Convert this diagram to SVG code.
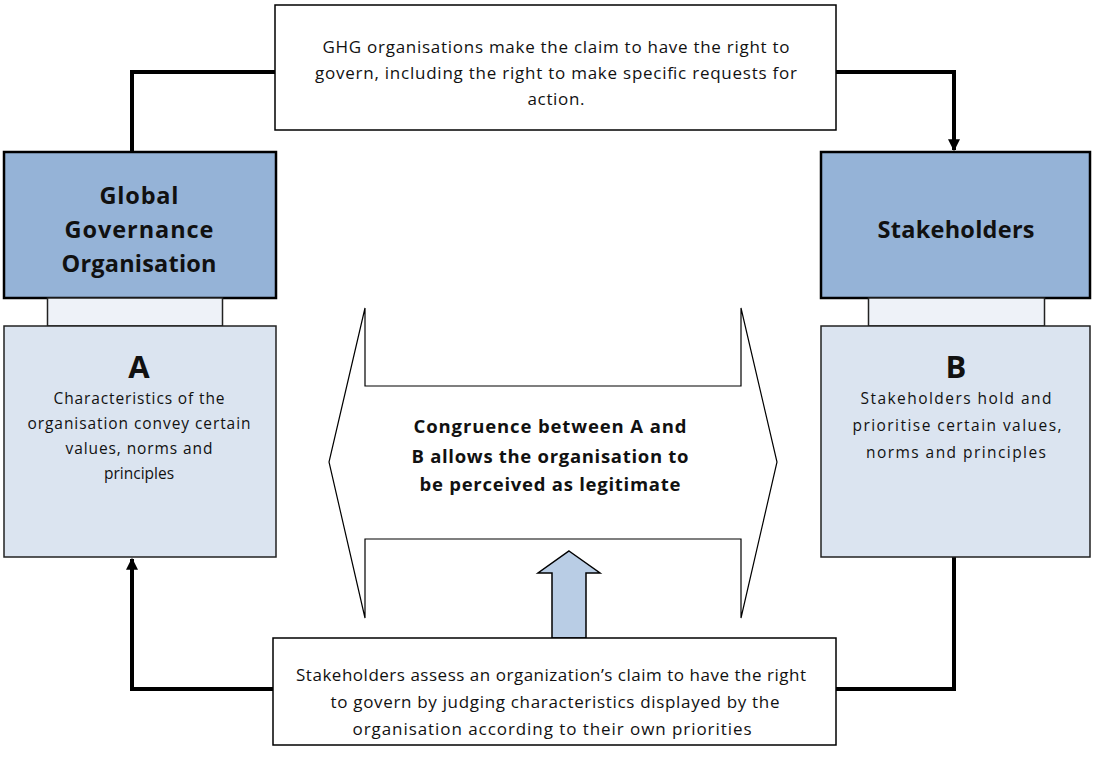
<svg xmlns="http://www.w3.org/2000/svg" width="1093" height="777" viewBox="0 0 1093 777">
<defs>
<marker id="ah" viewBox="0 0 10 10" refX="9" refY="5" markerWidth="3" markerHeight="3" orient="auto" markerUnits="strokeWidth">
<path d="M0,0 L10,5 L0,10 Z" fill="#000"/>
</marker>
<style>
text{font-family:"Open Sans",Lato,"Liberation Sans",sans-serif;fill:#111;text-anchor:middle}
.t{font-size:17px}
.s{font-size:15.5px}
.h{font-size:23.5px;font-weight:bold}
.big{font-size:31px;font-weight:bold}
.c{font-size:18.5px;font-weight:bold}
.main{fill:#95b3d7;stroke:#000;stroke-width:2.5}
.lt{fill:#dbe4f0;stroke:#222;stroke-width:1.5}
.nk{fill:#eef2f8;stroke:#222;stroke-width:1.5}
.wb{fill:#fff;stroke:#000;stroke-width:1.5}
.con{fill:none;stroke:#000;stroke-width:4}
</style>
</defs>
<g id="connectors">
<path class="con" d="M275,72 H132 V152"/>
<path class="con" d="M836,72 H954 V150" marker-end="url(#ah)"/>
<path class="con" d="M273,689 H132 V559" marker-end="url(#ah)"/>
<path class="con" d="M954,557 V689 H836"/>
</g>
<g id="top-claim">
<rect class="wb" x="275" y="5" width="561" height="125"/>
<text class="t" x="556" y="53" textLength="467">GHG organisations make the claim to have the right to</text>
<text class="t" x="556" y="79" textLength="482">govern, including the right to make specific requests for</text>
<text class="t" x="556" y="105" textLength="57">action.</text>
</g>
<g id="ggo">
<rect class="main" x="4" y="152" width="272" height="146"/>
<text class="h" x="139" y="204" textLength="79">Global</text>
<text class="h" x="139" y="238" textLength="149">Governance</text>
<text class="h" x="139" y="272" textLength="155">Organisation</text>
</g>
<g id="a-neck"><rect class="nk" x="47.5" y="298" width="175" height="28"/></g>
<g id="a-box">
<rect class="lt" x="4" y="326" width="272" height="231"/>
<text class="big" x="139" y="378">A</text>
<text class="s" x="139" y="404" textLength="171">Characteristics of the</text>
<text class="s" x="139" y="429" textLength="223">organisation convey certain</text>
<text class="s" x="139" y="454" textLength="147">values, norms and</text>
<text class="s" x="139" y="479">principles</text>
</g>
<g id="stakeholders">
<rect class="main" x="821" y="152" width="269" height="146"/>
<text class="h" x="956" y="238" textLength="157">Stakeholders</text>
</g>
<g id="b-neck"><rect class="nk" x="868.5" y="298" width="176" height="28"/></g>
<g id="b-box">
<rect class="lt" x="821" y="326" width="269" height="231"/>
<text class="big" x="956" y="378">B</text>
<text class="s" x="956" y="404" textLength="191">Stakeholders hold and</text>
<text class="s" x="957" y="431" textLength="209">prioritise certain values,</text>
<text class="s" x="956" y="458" textLength="180">norms and principles</text>
</g>
<g id="congruence">
<path fill="#fff" stroke="#000" stroke-width="1.2" d="M365,308 V386 H741 V308 L777,462 L741,618 V539 H365 V618 L329,462 Z"/>
<text class="c" x="550" y="433" textLength="273">Congruence between A and</text>
<text class="c" x="550" y="463" textLength="277">B allows the organisation to</text>
<text class="c" x="550" y="491" textLength="261">be perceived as legitimate</text>
</g>
<g id="up-arrow">
<path fill="#b9cde5" stroke="#000" stroke-width="1.5" d="M569,551 L600,573 L586,573 V638 H552 V573 L538,573 Z"/>
</g>
<g id="bottom-assess">
<rect class="wb" x="273" y="638" width="563" height="107"/>
<text class="t" x="551" y="681" textLength="510">Stakeholders assess an organization’s claim to have the right</text>
<text class="t" x="555" y="708" textLength="449">to govern by judging characteristics displayed by the</text>
<text class="t" x="552" y="735" textLength="399">organisation according to their own priorities</text>
</g>
</svg>
